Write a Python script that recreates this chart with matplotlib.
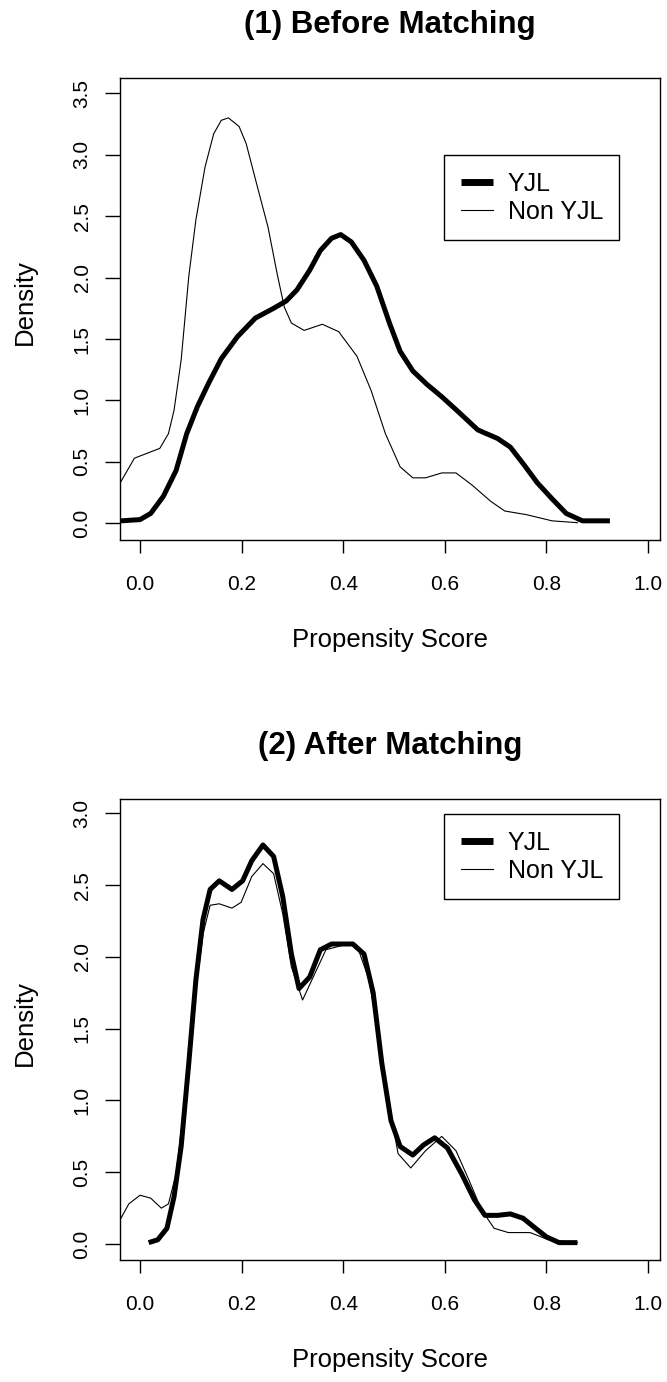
import matplotlib
matplotlib.use("Agg")
import matplotlib.pyplot as plt

plt.rcParams['font.family'] = ['Liberation Sans', 'DejaVu Sans']

# ---------------- data ----------------
x_ticks = [0.0, 0.2, 0.4, 0.6, 0.8, 1.0]
x_tick_labels = ["0.0", "0.2", "0.4", "0.6", "0.8", "1.0"]
y_ticks_before = [0.0, 0.5, 1.0, 1.5, 2.0, 2.5, 3.0, 3.5]
y_tick_labels_before = ["0.0", "0.5", "1.0", "1.5", "2.0", "2.5", "3.0", "3.5"]
y_ticks_after = [0.0, 0.5, 1.0, 1.5, 2.0, 2.5, 3.0]
y_tick_labels_after = ["0.0", "0.5", "1.0", "1.5", "2.0", "2.5", "3.0"]

titles = ["(1) Before Matching", "(2) After Matching"]
series_names = ["YJL", "Non YJL"]

# Before matching: YJL
before_yjl_x = [-0.0375, 0.000, 0.021, 0.046, 0.071, 0.092, 0.113, 0.135, 0.160, 0.192,
                0.227, 0.263, 0.288, 0.309, 0.334, 0.355, 0.377, 0.395, 0.416, 0.441,
                0.466, 0.491, 0.512, 0.537, 0.565, 0.594, 0.626, 0.665, 0.704, 0.729,
                0.757, 0.782, 0.811, 0.839, 0.871, 0.925]
before_yjl_y = [0.02, 0.03, 0.08, 0.22, 0.43, 0.73, 0.95, 1.14, 1.34, 1.52,
                1.67, 1.75, 1.81, 1.90, 2.06, 2.22, 2.32, 2.35, 2.29, 2.14,
                1.93, 1.63, 1.40, 1.24, 1.13, 1.03, 0.91, 0.76, 0.69, 0.62,
                0.47, 0.33, 0.20, 0.08, 0.02, 0.02]

# Before matching: Non YJL
before_non_x = [-0.0375, -0.011, 0.014, 0.039, 0.056, 0.067, 0.081, 0.096, 0.110, 0.128,
                0.145, 0.160, 0.174, 0.195, 0.209, 0.231, 0.252, 0.270, 0.284, 0.298,
                0.323, 0.359, 0.391, 0.427, 0.455, 0.483, 0.512, 0.537, 0.562, 0.594,
                0.622, 0.654, 0.690, 0.718, 0.761, 0.811, 0.861]
before_non_y = [0.34, 0.53, 0.57, 0.61, 0.73, 0.92, 1.33, 2.01, 2.47, 2.90,
                3.17, 3.28, 3.30, 3.23, 3.09, 2.74, 2.41, 2.03, 1.76, 1.63,
                1.57, 1.62, 1.56, 1.36, 1.08, 0.73, 0.46, 0.37, 0.37, 0.41,
                0.41, 0.31, 0.18, 0.10, 0.07, 0.02, 0.005]

# After matching: YJL
after_yjl_x = [0.017, 0.035, 0.053, 0.067, 0.081, 0.096, 0.110, 0.124, 0.138, 0.156,
               0.181, 0.202, 0.220, 0.242, 0.263, 0.281, 0.298, 0.313, 0.334, 0.355,
               0.377, 0.419, 0.441, 0.459, 0.476, 0.494, 0.512, 0.537, 0.558, 0.580,
               0.605, 0.633, 0.658, 0.679, 0.704, 0.729, 0.754, 0.775, 0.800, 0.825,
               0.861]
after_yjl_y = [0.01, 0.03, 0.11, 0.33, 0.68, 1.26, 1.84, 2.26, 2.47, 2.53,
               2.47, 2.53, 2.67, 2.78, 2.70, 2.42, 2.02, 1.78, 1.86, 2.05,
               2.09, 2.09, 2.02, 1.75, 1.26, 0.86, 0.68, 0.62, 0.69, 0.74,
               0.67, 0.49, 0.31, 0.20, 0.20, 0.21, 0.18, 0.12, 0.05, 0.01,
               0.01]

# After matching: Non YJL
after_non_x = [-0.0375, -0.022, 0.000, 0.021, 0.042, 0.056, 0.071, 0.089, 0.106, 0.124,
               0.138, 0.156, 0.181, 0.199, 0.220, 0.242, 0.263, 0.281, 0.298, 0.320,
               0.341, 0.366, 0.398, 0.427, 0.451, 0.473, 0.491, 0.508, 0.533, 0.562,
               0.594, 0.622, 0.647, 0.672, 0.697, 0.725, 0.768, 0.804, 0.861]
after_non_y = [0.18, 0.28, 0.34, 0.32, 0.25, 0.28, 0.49, 1.03, 1.65, 2.16,
               2.36, 2.37, 2.34, 2.38, 2.56, 2.65, 2.58, 2.30, 1.93, 1.70,
               1.86, 2.05, 2.08, 2.08, 1.84, 1.37, 0.96, 0.63, 0.53, 0.65,
               0.75, 0.65, 0.45, 0.24, 0.11, 0.08, 0.08, 0.03, 0.01]

# ---------------- figure ----------------
W, H = 667, 1382
fig = plt.figure(figsize=(W / 100, H / 100), dpi=100)

def axes_rect(left, top, right, bottom):
    return [left / W, 1 - bottom / H, (right - left) / W, (bottom - top) / H]

panels = [
    dict(rect=axes_rect(120, 78.3, 660, 540), ylim=(-0.136, 3.622),
         yt=y_ticks_before, ytl=y_tick_labels_before,
         yjl=(before_yjl_x, before_yjl_y), non=(before_non_x, before_non_y),
         title=titles[0], leg=(0.6, 0.833)),
    dict(rect=axes_rect(120, 799, 660, 1260), ylim=(-0.111, 3.10),
         yt=y_ticks_after, ytl=y_tick_labels_after,
         yjl=(after_yjl_x, after_yjl_y), non=(after_non_x, after_non_y),
         title=titles[1], leg=(0.6, 0.967)),
]

for p in panels:
    ax = fig.add_axes(p["rect"])
    ax.plot(p["yjl"][0], p["yjl"][1], color="black", lw=3.6,
            solid_joinstyle="round", solid_capstyle="butt", label=series_names[0])
    ax.plot(p["non"][0], p["non"][1], color="black", lw=0.8,
            solid_joinstyle="round", label=series_names[1])

    ax.set_xlim(-0.0394, 1.0236)
    ax.set_ylim(*p["ylim"])
    ax.set_xticks(x_ticks)
    ax.set_xticklabels(x_tick_labels, fontsize=15)
    ax.set_yticks(p["yt"])
    ax.set_yticklabels(p["ytl"], fontsize=15, rotation=90, va="center")
    ax.tick_params(axis="x", direction="out", length=9.5, width=1.0, pad=15.5)
    ax.tick_params(axis="y", direction="out", length=10.5, width=1.0, pad=10)
    for s in ax.spines.values():
        s.set_linewidth(1.0)
        s.set_color("black")

    ax.set_xlabel("Propensity Score", fontsize=18.5, va="center")
    ax.xaxis.set_label_coords(0.5, -0.217)
    ax.set_ylabel("Density", fontsize=18.5, va="center", ha="center")
    ax.yaxis.set_label_coords(-0.176, 0.515)

    ax.set_title(p["title"], fontsize=22.5, fontweight="bold",
                 y=1 + 53 / 462, pad=0, va="center")

    leg = ax.legend(loc="upper left", bbox_to_anchor=p["leg"], borderaxespad=0,
                    fontsize=18, frameon=True, fancybox=False, framealpha=1,
                    edgecolor="black", borderpad=0.66, labelspacing=0.16,
                    handlelength=1.3, handletextpad=0.58)
    leg.get_frame().set_linewidth(1.0)
    leg.legend_handles[0].set_linewidth(5)
    leg.legend_handles[1].set_linewidth(0.8)

fig.savefig("out.png", dpi=100)
